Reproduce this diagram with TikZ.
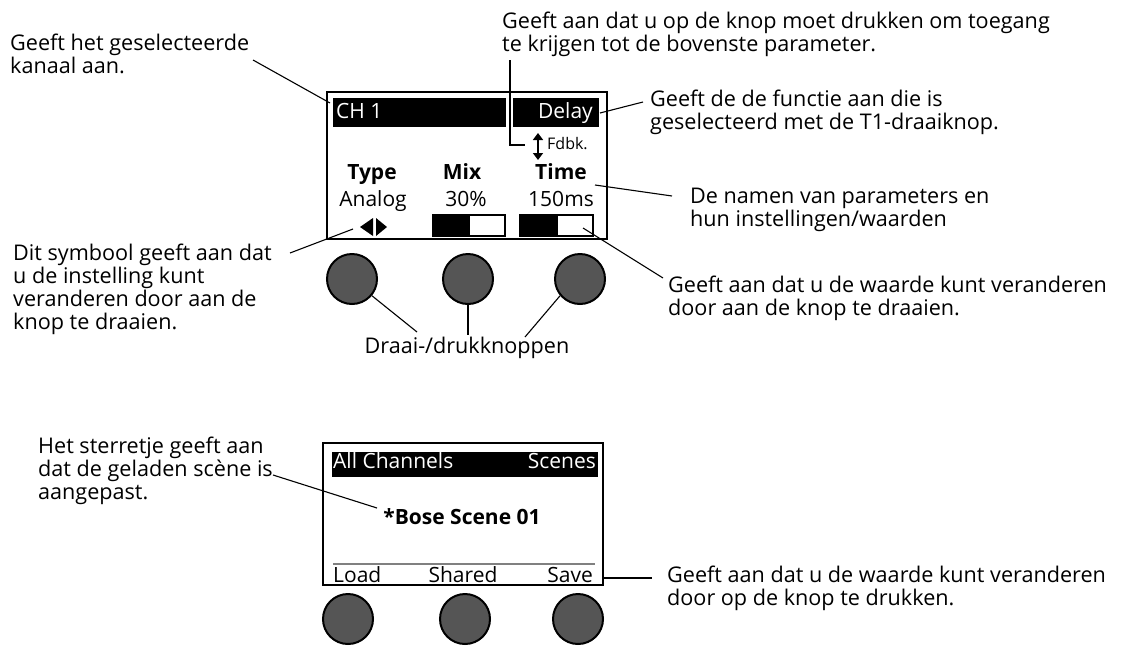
\documentclass[tikz,border=0pt]{standalone}
\usepackage{fontspec}
\setmainfont{Open Sans}
\usetikzlibrary{arrows.meta}
\definecolor{knobgray}{RGB}{85,85,85}
\definecolor{sepgray}{RGB}{128,128,128}
\begin{document}
\begin{tikzpicture}[x=1pt,y=-1pt,
  lbl/.style={font=\fontsize{21.6}{23}\selectfont, align=left, inner sep=0pt, anchor=base west},
  disp/.style={font=\fontsize{21}{23}\selectfont, inner sep=0pt},
  dispb/.style={font=\fontsize{21}{23}\selectfont\bfseries, inner sep=0pt},
  frame/.style={draw=black, line width=2pt, inner sep=0pt, outer sep=0pt, anchor=north west},
  blackbar/.style={fill=black, inner sep=0pt, outer sep=0pt, anchor=north west},
  meter/.style={draw=black, line width=1.6pt, inner sep=0pt, outer sep=0pt, anchor=north west, minimum width=72pt, minimum height=21pt},
  knob/.style={circle, draw=black, line width=2pt, fill=knobgray, minimum size=50pt, inner sep=0pt},
  leader/.style={line width=1.1pt},
  leaderthick/.style={line width=1.8pt},
]
\useasboundingbox[fill=white] (0,0) rectangle (1136,654);

% ---------- top display ----------
\node[frame, minimum width=280pt, minimum height=147pt] (disp1) at (327,92) {};
\node[blackbar, minimum width=173pt, minimum height=29pt] (chbar) at (333,98) {};
\node[blackbar, minimum width=86pt, minimum height=29pt] (delaybar) at (513,98) {};
\node[disp, text=white, anchor=base west] (ch) at (336,118) {CH 1};
\node[disp, text=white, anchor=base east] (delay) at (593,118) {Delay};

\coordinate (fa) at (538,133);
\coordinate (fb) at (538,160);
\draw[line width=2pt, {Triangle[width=10pt,length=7pt]}-{Triangle[width=10pt,length=7pt]}] (fa) -- (fb);
\node[inner sep=0pt, anchor=base west, font=\fontsize{16}{17}\selectfont] (fdbk) at (547,149) {Fdbk.};

\node[dispb, anchor=base] (type) at (372,179) {Type};
\node[dispb, anchor=base] (mix) at (462,179) {Mix};
\node[dispb, anchor=base] (time) at (561,179) {Time};
\node[disp, anchor=base] (analog) at (373,206) {Analog};
\node[disp, anchor=base] (pct) at (466,206) {30\%};
\node[disp, anchor=base] (ms) at (561,206) {150ms};

\fill (360,227) -- (373,218) -- (373,236) -- cycle;
\fill (376,218) -- (387,227) -- (376,236) -- cycle;

\fill (433,215) rectangle (470,236);
\node[meter] (mixbar) at (433,215) {};
\fill (520,215) rectangle (558,236);
\node[meter, minimum width=73pt] (timebar) at (520,215) {};

\node[knob] (k1) at (352,279) {};
\node[knob] (k2) at (468,279) {};
\node[knob] (k3) at (580,279) {};
\node[lbl, anchor=base] (drk) at (467,353) {Draai-/drukknoppen};
\coordinate (d1) at (417,332);
\coordinate (d2) at (468,335);
\coordinate (d3) at (525,337);
\draw[leader] (k1.-40) -- (d1);
\draw[leaderthick] (k2.south) -- (d2);
\draw[leader] (k3.-140) -- (d3);

% ---------- labels top ----------
\node[lbl] (lA) at (10,73) {Geeft het geselecteerde\\kanaal aan.};
\coordinate (a1) at (253,60);
\coordinate (a2) at (330,103);
\draw[leader] (a1) -- (a2);

\node[lbl] (lB) at (502,51) {Geeft aan dat u op de knop moet drukken om toegang\\te krijgen tot de bovenste parameter.};
\coordinate (b1) at (510,60);
\coordinate (b2) at (525,145);
\draw[leaderthick] (b1) |- (b2);

\node[lbl] (lC) at (650,129) {Geeft de de functie aan die is\\geselecteerd met de T1-draaiknop.};
\coordinate (c1) at (600,113);
\coordinate (c2) at (643,102);
\draw[leader] (c1) -- (c2);

\node[lbl] (lD) at (690,226) {De namen van parameters en\\hun instellingen/waarden};
\coordinate (e1) at (595,185);
\coordinate (e2) at (672,196);
\draw[leader] (e1) -- (e2);

\node[lbl] (lE) at (668,315) {Geeft aan dat u de waarde kunt veranderen\\door aan de knop te draaien.};
\coordinate (f1) at (583,228);
\coordinate (f2) at (663,278);
\draw[leader] (f1) -- (f2);

\node[lbl] (lF) at (13,329) {Dit symbool geeft aan dat\\u de instelling kunt\\veranderen door aan de\\knop te draaien.};
\coordinate (g1) at (290,253);
\coordinate (g2) at (353,229);
\draw[leader] (g1) -- (g2);

% ---------- bottom display ----------
\node[frame, minimum width=280pt, minimum height=142pt] (disp2) at (323,443) {};
\node[blackbar, minimum width=266pt, minimum height=25pt] (scbar) at (332,452) {};
\node[disp, text=white, anchor=base west] (allch) at (333,468) {All Channels};
\node[disp, text=white, anchor=base east] (scenes) at (596,468) {Scenes};
\node[dispb, anchor=base] (bose) at (462,524) {*Bose Scene 01};
\coordinate (s1) at (333,564);
\coordinate (s2) at (595,564);
\draw[sepgray, line width=1.5pt] (s1) -- (s2);
\node[disp, anchor=base west] (load) at (333,582) {Load};
\node[disp, anchor=base] (shared) at (463,582) {Shared};
\node[disp, anchor=base east] (save) at (593,582) {Save};

\node[knob] (m1) at (348,619) {};
\node[knob] (m2) at (465,619) {};
\node[knob] (m3) at (578,619) {};

\node[lbl] (lG) at (38,499) {Het sterretje geeft aan\\dat de geladen scène is\\aangepast.};
\coordinate (h1) at (273,475);
\coordinate (h2) at (377,508);
\draw[leader] (h1) -- (h2);

\node[lbl] (lH) at (667,605) {Geeft aan dat u de waarde kunt veranderen\\door op de knop te drukken.};
\coordinate (i1) at (603,578);
\coordinate (i2) at (652,578);
\draw[leader] (i1) -- (i2);
\end{tikzpicture}
\end{document}
